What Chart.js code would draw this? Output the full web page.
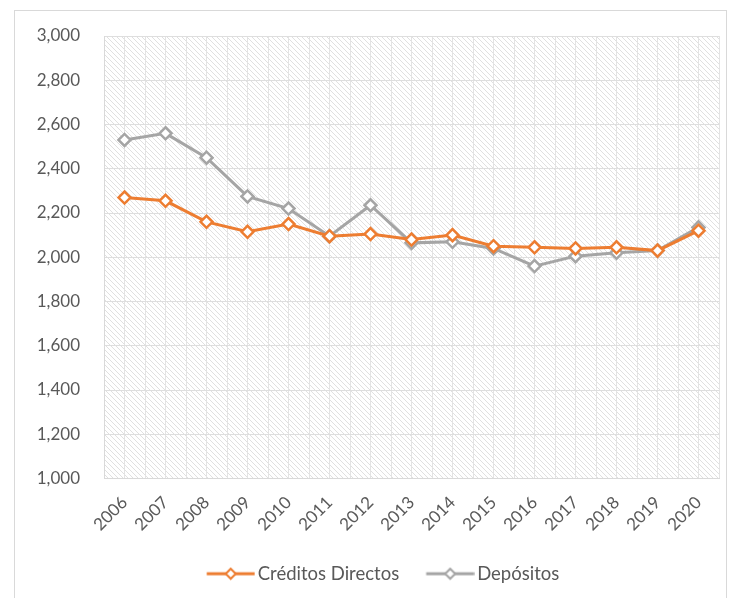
<!DOCTYPE html>
<html>
<head>
<meta charset="utf-8">
<script src="https://cdn.jsdelivr.net/npm/chart.js@4"></script>
<style>
  html, body { margin: 0; padding: 0; background: #fff; }
  #wrap { width: 740px; height: 598px; }
</style>
</head>
<body>
<div id="wrap"><canvas id="chart" width="740" height="598"></canvas></div>
<script>
// Chart data
const years = ['2006', '2007', '2008', '2009', '2010', '2011', '2012', '2013', '2014', '2015', '2016', '2017', '2018', '2019', '2020'];
const creditos = [2270, 2255, 2160, 2115, 2150, 2095, 2105, 2080, 2100, 2050, 2045, 2040, 2045, 2030, 2120];
const depositos = [2530, 2560, 2450, 2275, 2220, 2095, 2235, 2065, 2070, 2040, 1960, 2005, 2020, 2030, 2135];

const orange = '#ED7D31';
const gray = '#A5A5A5';
const fontFamily = 'Lato, "Noto Sans", sans-serif';
const legendFont = 18.5;

// legend sample geometry: blank gap before the sample, line length, gap to text
const lgBlank = 27, lgLine = 48, lgGap = 3;
const lgBox = lgBlank + lgLine + lgGap - legendFont / 2;

// Diagonal hatch used to fill the plot area
function makeHatch() {
    const c = document.createElement('canvas');
    c.width = 5; c.height = 5;
    const g = c.getContext('2d');
    g.strokeStyle = '#e0e0e0';
    g.lineWidth = 1;
    g.beginPath();
    g.moveTo(-1, -1); g.lineTo(6, 6);
    g.moveTo(-1, 4); g.lineTo(1, 6);
    g.moveTo(4, -1); g.lineTo(6, 1);
    g.stroke();
    return c;
}

// Line + diamond sample for the legend (canvas is centred on the legend box)
function legendIcon(color) {
    const w = Math.ceil(2 * (lgBlank + lgLine - lgBox / 2));
    const off = w / 2 - lgBox / 2;
    const c = document.createElement('canvas');
    c.width = w; c.height = 14;
    const g = c.getContext('2d');
    const x0 = off + lgBlank, x1 = x0 + lgLine, xm = (x0 + x1) / 2;
    g.strokeStyle = color;
    g.lineWidth = 3;
    g.beginPath();
    g.moveTo(x0, 7); g.lineTo(x1, 7);
    g.stroke();
    g.lineWidth = 2;
    g.fillStyle = '#fff';
    g.beginPath();
    g.moveTo(xm, 2); g.lineTo(xm + 5, 7); g.lineTo(xm, 12); g.lineTo(xm - 5, 7); g.closePath();
    g.fill(); g.stroke();
    return c;
}

const hatch = makeHatch();

const backgroundPlugin = {
    id: 'backgroundPlugin',
    beforeDraw(chart) {
        const ctx = chart.ctx;
        const a = chart.chartArea;
        ctx.save();
        ctx.strokeStyle = '#d9d9d9';
        ctx.lineWidth = 1;
        ctx.strokeRect(14.5, 10.5, 712, 600);
        ctx.fillStyle = ctx.createPattern(hatch, 'repeat');
        ctx.fillRect(a.left, a.top, a.right - a.left, a.bottom - a.top);
        ctx.restore();
    }
};

const ctx = document.getElementById('chart').getContext('2d');
new Chart(ctx, {
    type: 'line',
    data: {
        labels: years,
        datasets: [{
            label: 'Créditos Directos',
            data: creditos,
            borderColor: orange,
            backgroundColor: '#fff',
            borderWidth: 3,
            pointStyle: 'rectRot',
            pointRadius: 6,
            pointBorderWidth: 2.5,
            pointBackgroundColor: '#fff',
            pointBorderColor: orange,
            tension: 0
        }, {
            label: 'Depósitos',
            data: depositos,
            borderColor: gray,
            backgroundColor: '#fff',
            borderWidth: 3,
            pointStyle: 'rectRot',
            pointRadius: 6,
            pointBorderWidth: 2.5,
            pointBackgroundColor: '#fff',
            pointBorderColor: gray,
            tension: 0
        }]
    },
    options: {
        responsive: false,
        animation: false,
        layout: { padding: { left: 20, right: 21, top: 36, bottom: 5 } },
        plugins: {
            tooltip: { enabled: false },
            legend: {
                position: 'bottom',
                labels: {
                    usePointStyle: true,
                    pointStyleWidth: lgBox,
                    boxHeight: 14,
                    padding: 0,
                    color: '#595959',
                    font: { family: fontFamily, size: legendFont },
                    generateLabels(chart) {
                        return chart.data.datasets.map((ds, i) => ({
                            text: ds.label,
                            fillStyle: '#fff',
                            strokeStyle: ds.borderColor,
                            lineWidth: 0,
                            pointStyle: legendIcon(ds.borderColor),
                            fontColor: '#595959',
                            datasetIndex: i,
                            hidden: false
                        }));
                    }
                }
            }
        },
        scales: {
            x: {
                offset: true,
                grid: { display: false, drawTicks: false },
                border: { display: true, color: '#d9d9d9', width: 1 },
                ticks: {
                    color: '#595959',
                    font: { family: fontFamily, size: 17 },
                    minRotation: 45,
                    maxRotation: 45,
                    padding: 14,
                    autoSkip: false
                },
                afterFit(scale) { scale.height = 86; }
            },
            xGrid: {
                type: 'linear',
                position: 'top',
                min: -0.5,
                max: years.length - 0.5,
                grid: { color: '#e3e3e3', lineWidth: 1, drawTicks: false },
                border: { display: false },
                ticks: { display: false, stepSize: 0.5 },
                afterFit(scale) { scale.height = 0; }
            },
            y: {
                min: 1000,
                max: 3000,
                grid: { color: '#dedede', lineWidth: 1, drawTicks: false },
                border: { display: true, color: '#d9d9d9' },
                ticks: {
                    stepSize: 200,
                    color: '#595959',
                    padding: 24,
                    font: { family: fontFamily, size: 17 },
                    callback: v => v.toLocaleString('en-US')
                },
                afterFit(scale) { scale.width = 84; }
            }
        }
    },
    plugins: [backgroundPlugin]
});
</script>
</body>
</html>
